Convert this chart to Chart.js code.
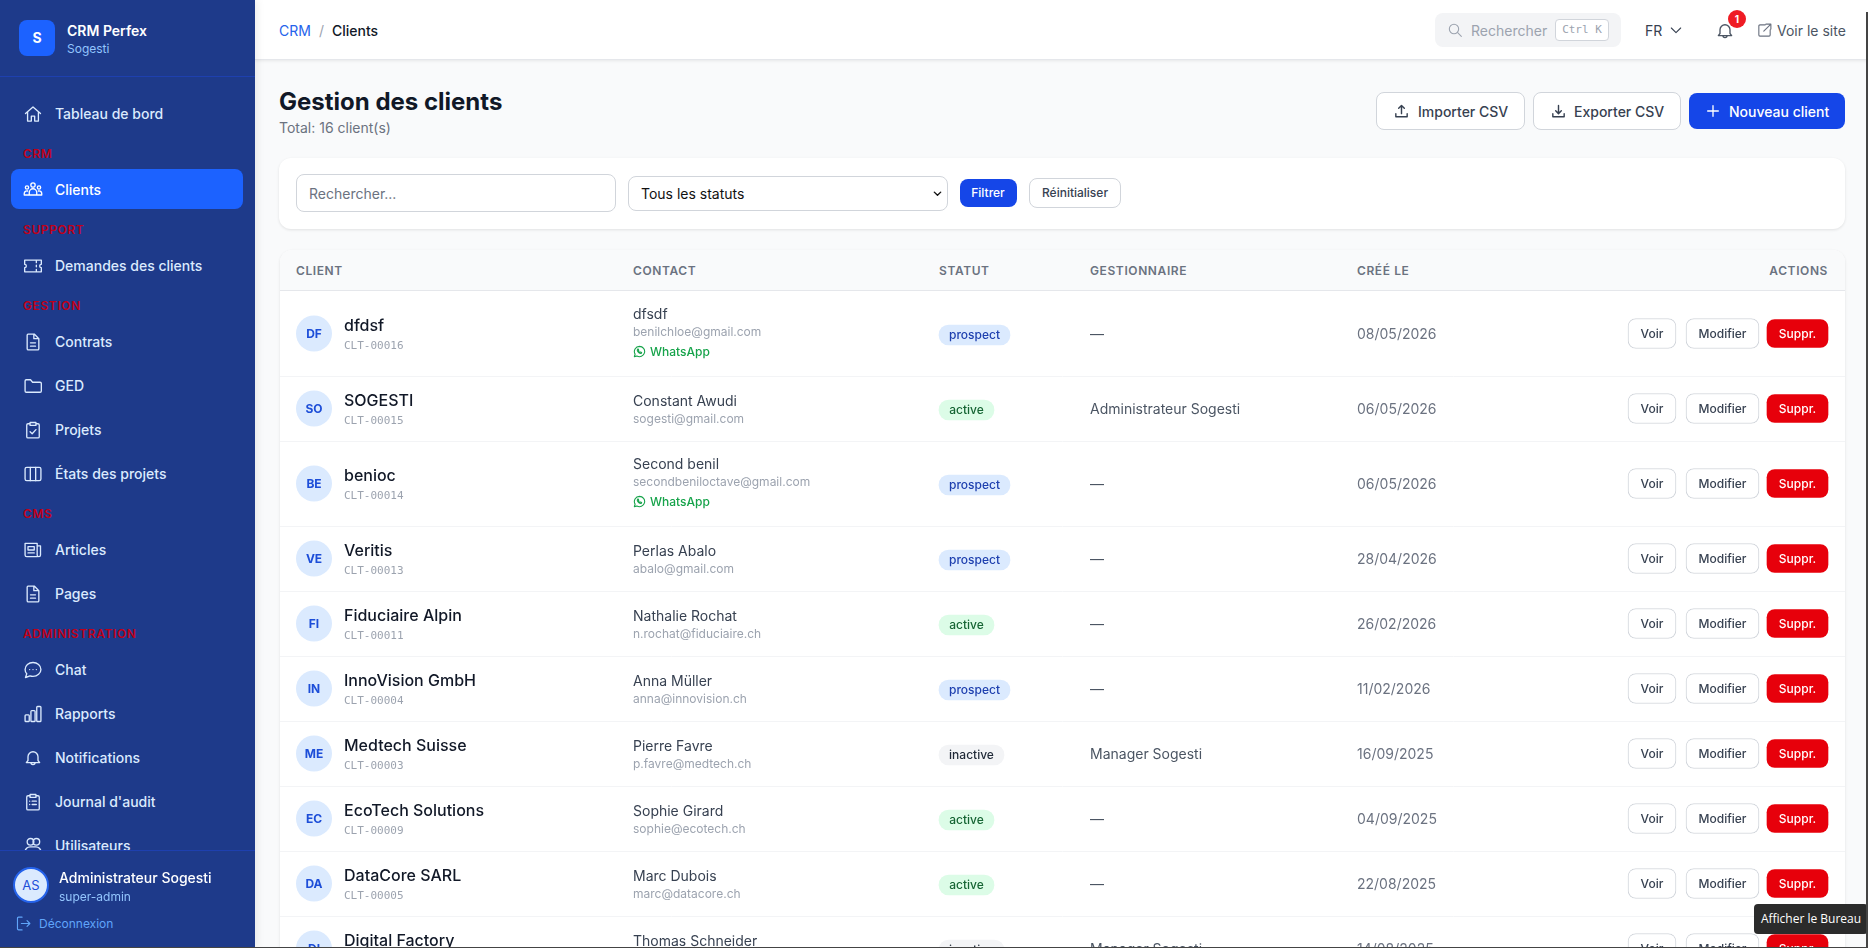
<!DOCTYPE html>
<html lang="fr">
<head>
<meta charset="utf-8">
<title>Gestion des clients</title>
<script src="https://cdn.jsdelivr.net/npm/chart.js@4"></script>
<style>
  * { box-sizing: border-box; }
  html, body { margin: 0; width: 1868px; height: 948px; overflow: hidden; background: #f9fafb; font-family: Inter, sans-serif; }
  .abs, .t { position: absolute; }
  .t { white-space: nowrap; height: 20px; line-height: 20px; }
  svg { position: absolute; fill: none; stroke: currentColor; stroke-width: 1.6; stroke-linecap: round; stroke-linejoin: round; }
  #sidebar { left: 0; top: 0; width: 255px; height: 948px; background: #1e3a8a; overflow: hidden; z-index: 3; box-shadow: 2px 0 8px rgba(0,0,0,.08); }
  #topbar { left: 255px; top: 0; width: 1613px; height: 60px; background: #fff; border-bottom: 1px solid #e5e7eb; box-shadow: 0 1px 3px rgba(0,0,0,.08); z-index: 2; }
  .card { background: #fff; border-radius: 12px; box-shadow: 0 1px 3px rgba(0,0,0,.1); }
  #tableWrap { left: 280px; top: 291px; width: 1565px; height: 692px; }
  #tooltip { left: 1754px; top: 904px; width: 114px; height: 30px; background: #2b2b2b; border-radius: 4px; color: #fff; font: 12px/30px "Open Sans", sans-serif; text-align: center; z-index: 5; }
</style>
</head>
<body>
<div id="sidebar" class="abs"></div>
<div id="topbar" class="abs"></div>
<div id="page" class="abs" style="left:0;top:0;width:1868px;height:948px">
  <div class="card abs" style="left:279px;top:158px;width:1566px;height:71px"></div>
  <div class="card abs" style="left:280px;top:250px;width:1565px;height:760px"></div>
  <div class="abs" style="left:280px;top:250px;width:1565px;height:41px;background:#f9fafb;border-bottom:1px solid #e5e7eb;border-radius:12px 12px 0 0"></div>
  <div id="tableWrap" class="abs"><canvas id="clientTable" width="1565" height="692"></canvas></div>
</div>
<div id="tooltip" class="abs">Afficher le Bureau</div>
<div class="abs" style="left:1866px;top:12px;width:2px;height:936px;background:#444;z-index:6"></div>
<div class="abs" style="left:0;top:947px;width:1868px;height:1px;background:#444;z-index:6"></div>

<script>
// table values
const clientNames = ['dfdsf', 'SOGESTI', 'benioc', 'Veritis', 'Fiduciaire Alpin', 'InnoVision GmbH', 'Medtech Suisse', 'EcoTech Solutions', 'DataCore SARL', 'Digital Factory'];
const clientInitials = ['DF', 'SO', 'BE', 'VE', 'FI', 'IN', 'ME', 'EC', 'DA', 'DI'];
const clientCodes = ['CLT-00016', 'CLT-00015', 'CLT-00014', 'CLT-00013', 'CLT-00011', 'CLT-00004', 'CLT-00003', 'CLT-00009', 'CLT-00005', 'CLT-00007'];
const contactNames = ['dfsdf', 'Constant Awudi', 'Second benil', 'Perlas Abalo', 'Nathalie Rochat', 'Anna Müller', 'Pierre Favre', 'Sophie Girard', 'Marc Dubois', 'Thomas Schneider'];
const contactEmails = ['benilchloe@gmail.com', 'sogesti@gmail.com', 'secondbeniloctave@gmail.com', 'abalo@gmail.com', 'n.rochat@fiduciaire.ch', 'anna@innovision.ch', 'p.favre@medtech.ch', 'sophie@ecotech.ch', 'marc@datacore.ch', 'thomas@digitalfactory.ch'];
const hasWhatsApp = [true, false, true, false, false, false, false, false, false, false];
const statuses = ['prospect', 'active', 'prospect', 'prospect', 'active', 'prospect', 'inactive', 'active', 'active', 'inactive'];
const managers = ['—', 'Administrateur Sogesti', '—', '—', '—', '—', 'Manager Sogesti', '—', '—', 'Manager Sogesti'];
const createdDates = ['08/05/2026', '06/05/2026', '06/05/2026', '28/04/2026', '26/02/2026', '11/02/2026', '16/09/2025', '04/09/2025', '22/08/2025', '14/08/2025'];
const columnLabels = ['CLIENT', 'CONTACT', 'STATUT', 'GESTIONNAIRE', 'CRÉÉ LE', 'ACTIONS'];
const actionLabels = ['Voir', 'Modifier', 'Suppr.'];

// sidebar values
const navLabels = ['Tableau de bord', 'Clients', 'Demandes des clients', 'Contrats', 'GED', 'Projets', 'États des projets', 'Articles', 'Pages', 'Chat', 'Rapports', 'Notifications', "Journal d'audit", 'Utilisateurs'];
const navIcons = ['home', 'group', 'ticket', 'doc', 'folder', 'check', 'columns', 'news', 'doc', 'chat', 'bars', 'bell', 'list', 'users'];
const navSections = ['CRM', 'SUPPORT', 'GESTION', 'CMS', 'ADMINISTRATION'];

// layout, in page pixels
const navY = [114, 190, 266, 342, 386, 430, 474, 550, 594, 670, 714, 758, 802, 846];
const sectionY = [154, 230, 306, 514, 634];
const columnX = [296, 633, 939, 1090, 1357];
const statusWidth = { prospect: 71, active: 55, inactive: 65 };
const statusColors = {
  prospect: ['#dbeafe', '#1e40af'],
  active: ['#dcfce7', '#166534'],
  inactive: ['#f3f4f6', '#1f2937']
};

const ICONS = {
  home: '<path d="M3 11.5 12 3.5l9 8M5.5 9.500V20.500h4.500v-6h4v6h4.500V9.500"/>',
  group: '<circle cx="12" cy="6" r="2.6"/><circle cx="4.8" cy="9" r="2"/><circle cx="19.2" cy="9" r="2"/><path d="M7.500 18v-3a4.500 4.500 0 0 1 9 0v3zM1.500 18v-2a3.200 3.200 0 0 1 4-2.800M22.500 18v-2a3.200 3.200 0 0 0-4-2.800M1.500 18h21"/>',
  ticket: '<path d="M2 5h20v5a2 2 0 0 0 0 4v5H2v-5a2 2 0 0 0 0-4zM16 6v2M16 11v2M16 16v2"/>',
  doc: '<path d="M6 2.500h7.500L19 8v12a1.500 1.500 0 0 1-1.500 1.500h-11A1.500 1.500 0 0 1 5 20V4a1.500 1.500 0 0 1 1-1.500zM13 3v5h6M9 13h6M9 17h6"/>',
  folder: '<path d="M2.500 6a1.500 1.500 0 0 1 1.500-1.500h5l2.500 3h9a1.500 1.500 0 0 1 1.500 1.500v9a1.500 1.500 0 0 1-1.500 1.500H4A1.500 1.500 0 0 1 2.500 18z"/>',
  check: '<path d="M8.500 4.500H6A1.500 1.500 0 0 0 4.500 6v14A1.500 1.500 0 0 0 6 21.500h12a1.500 1.500 0 0 0 1.500-1.500V6A1.500 1.500 0 0 0 18 4.500h-2.500M8.500 3h7v3.500h-7zM8.500 14l2.500 2.500 4.500-5"/>',
  columns: '<rect x="2.500" y="4" width="19" height="16" rx="2"/><path d="M8.800 4v16M15.200 4v16"/>',
  news: '<path d="M17 20H4.500A2 2 0 0 1 2.500 18V4h14.500v14a2 2 0 0 0 4 0V7h-4M6 8h7.500v4H6zM6 15.500h7.500"/>',
  chat: '<path d="M12 3c5.200 0 9.500 3.700 9.500 8.300s-4.300 8.300-9.500 8.300c-1.300 0-2.500-.2-3.600-.6L3 21l1.500-4.500a7.900 7.900 0 0 1-2-5.200C2.500 6.700 6.800 3 12 3z"/><path d="M8 11.500h.01M12 11.500h.01M16 11.500h.01"/>',
  bars: '<rect x="2.500" y="13" width="5" height="8" rx="1"/><rect x="9.500" y="8" width="5" height="13" rx="1"/><rect x="16.500" y="3" width="5" height="18" rx="1"/>',
  bell: '<path d="M18 15V10.500a6 6 0 0 0-12 0V15l-2 2.500h16zM9.500 17.500a2.500 2.500 0 0 0 5 0"/>',
  list: '<path d="M8.500 4.500H6A1.500 1.500 0 0 0 4.500 6v14A1.500 1.500 0 0 0 6 21.500h12a1.500 1.500 0 0 0 1.500-1.500V6A1.500 1.500 0 0 0 18 4.500h-2.500M8.500 3h7v3.500h-7zM8 11h.01M11 11h5M8 15h.01M11 15h5"/>',
  users: '<circle cx="9" cy="7" r="4"/><circle cx="16" cy="7" r="4"/><path d="M2.500 21v-2a6 6 0 0 1 6-6h7a6 6 0 0 1 6 6v2"/>',
  logout: '<path d="M10 3H5a1.500 1.500 0 0 0-1.500 1.500v15A1.500 1.500 0 0 0 5 21h5M9 12h12M17 8l4 4-4 4"/>',
  search: '<circle cx="10.500" cy="10.500" r="7"/><path d="m16 16 5.500 5.500"/>',
  chevron: '<path d="m5 9 7 7 7-7"/>',
  external: '<path d="M13 4H5.500A1.500 1.500 0 0 0 4 5.500v13A1.500 1.500 0 0 0 5.500 20h13a1.500 1.500 0 0 0 1.500-1.500V11M14 3h7v7M21 3 11 13"/>',
  upload: '<path d="M12 15V4M8 7.500 12 3.500l4 4M4 15v4.500h16V15"/>',
  download: '<path d="M12 3.500v11M8 11l4 4 4-4M4 15v4.500h16V15"/>',
  plus: '<path d="M12 4v16M4 12h16"/>',
  whatsapp: '<path d="M12 2.500a9.500 9.500 0 0 0-8.100 14.400L2.500 21.500l4.700-1.300A9.500 9.500 0 1 0 12 2.500z"/><path d="M8.500 7.500c-1 1-1 2.500.5 4.800 1.500 2.200 3.500 3.500 5 3.500 1 0 2-.8 2-1.800l-2.300-1.200-1 1c-1.200-.5-2.300-1.600-2.900-2.900l.9-1-1-2.400z"/>'
};

function addText(parent, text, x, y, css) {
  const el = document.createElement('div');
  el.className = 't';
  el.textContent = text;
  el.style.cssText = `left:${x}px;top:${y - 10}px;${css || ''}`;
  parent.appendChild(el);
  return el;
}

function addRightText(parent, text, right, y, css) {
  const el = addText(parent, text, 0, y, css);
  el.style.left = 'auto';
  el.style.right = (1868 - right) + 'px';
  return el;
}

function addCenterText(parent, text, cx, y, css) {
  const el = addText(parent, text, cx, y, css);
  el.style.transform = 'translateX(-50%)';
  return el;
}

function addIcon(parent, name, x, y, size, color, width) {
  const holder = document.createElement('div');
  holder.innerHTML = `<svg viewBox="0 0 24 24" width="${size}" height="${size}" style="left:${x}px;top:${y - size / 2}px;color:${color};stroke-width:${width || 1.6}">${ICONS[name]}</svg>`;
  parent.appendChild(holder.firstChild);
}

function addBox(parent, x, y, w, h, css) {
  const el = document.createElement('div');
  el.className = 'abs';
  el.style.cssText = `left:${x}px;top:${y}px;width:${w}px;height:${h}px;${css}`;
  parent.appendChild(el);
  return el;
}

function buildSidebar() {
  const side = document.getElementById('sidebar');
  addBox(side, 19, 20, 36, 36, 'background:#1c62ff;border-radius:8px');
  addCenterText(side, 'S', 37, 38, 'color:#fff;font-weight:700;font-size:14px');
  addText(side, 'CRM Perfex', 67, 31, 'color:#fff;font-weight:600;font-size:14px');
  addText(side, 'Sogesti', 67, 49, 'color:#93c5fd;font-size:12px');
  addBox(side, 0, 76, 255, 1, 'background:#1e40af');

  addBox(side, 11, 169, 232, 40, 'background:#1c62ff;border-radius:8px');
  navLabels.forEach((label, i) => {
    const color = label === 'Clients' ? '#fff' : '#dbeafe';
    addIcon(side, navIcons[i], 23, navY[i], 20, color);
    addText(side, label, 55, navY[i], `color:${color};font-weight:500;font-size:14px`);
  });
  navSections.forEach((label, i) => {
    addText(side, label, 23, sectionY[i], 'color:#c00018;font-weight:600;font-size:12px;letter-spacing:.6px');
  });

  const foot = addBox(side, 0, 850, 255, 98, 'background:#1e3a8a;border-top:1px solid #1e40af');
  addBox(foot, 13, 16, 36, 36, 'background:#dbeafe;border:2px solid #2563eb;border-radius:50%');
  addCenterText(foot, 'AS', 31, 34, 'color:#1d4ed8;font-size:13px');
  addText(foot, 'Administrateur Sogesti', 59, 27, 'color:#fff;font-weight:500;font-size:14px');
  addText(foot, 'super-admin', 59, 46, 'color:#93c5fd;font-size:12px');
  addIcon(foot, 'logout', 15, 72, 17, '#60a5fa');
  addText(foot, 'Déconnexion', 39, 73, 'color:#60a5fa;font-size:12px');
}

function buildTopbar() {
  const bar = document.getElementById('topbar');
  addText(bar, 'CRM', 24, 31, 'color:#2563eb;font-size:14px');
  addText(bar, '/', 64, 31, 'color:#9ca3af;font-size:14px');
  addText(bar, 'Clients', 77, 31, 'color:#111827;font-weight:500;font-size:14px');
  addBox(bar, 1180, 13, 186, 34, 'background:#f3f4f6;border-radius:8px');
  addIcon(bar, 'search', 1192, 30, 16, '#9ca3af');
  addText(bar, 'Rechercher', 1216, 31, 'color:#9ca3af;font-size:14px');
  addBox(bar, 1300, 19, 54, 22, 'background:#fff;border:1px solid #d1d5db;border-radius:4px');
  addCenterText(bar, 'Ctrl K', 1327, 30, 'color:#9ca3af;font:11px/20px "DejaVu Sans Mono",monospace');
  addText(bar, 'FR', 1390, 31, 'color:#374151;font-size:14px');
  addIcon(bar, 'chevron', 1413, 30, 16, '#374151');
  addIcon(bar, 'bell', 1460, 31, 20, '#4b5563');
  addBox(bar, 1473, 10, 18, 18, 'background:#ef1c24;border-radius:50%');
  addCenterText(bar, '1', 1482, 19, 'color:#fff;font-weight:700;font-size:10px');
  addIcon(bar, 'external', 1501, 30, 17, '#6b7280');
  addText(bar, 'Voir le site', 1522, 31, 'color:#4b5563;font-size:14px');
}

function buildPageHead() {
  const page = document.getElementById('page');
  addText(page, 'Gestion des clients', 279, 102, 'color:#111827;font-weight:700;font-size:24px');
  addText(page, 'Total: 16 client(s)', 279, 128, 'color:#6b7280;font-size:14px');

  addBox(page, 1376, 92, 149, 38, 'background:#fff;border:1px solid #d1d5db;border-radius:8px');
  addIcon(page, 'upload', 1393, 111, 17, '#374151', 2);
  addText(page, 'Importer CSV', 1418, 112, 'color:#374151;font-weight:500;font-size:14px');
  addBox(page, 1533, 92, 148, 38, 'background:#fff;border:1px solid #d1d5db;border-radius:8px');
  addIcon(page, 'download', 1550, 111, 17, '#374151', 2);
  addText(page, 'Exporter CSV', 1574, 112, 'color:#374151;font-weight:500;font-size:14px');
  addBox(page, 1689, 93, 156, 36, 'background:#1546e8;border-radius:8px');
  addIcon(page, 'plus', 1705, 111, 16, '#fff', 2);
  addText(page, 'Nouveau client', 1729, 112, 'color:#fff;font-weight:500;font-size:14px');

  addBox(page, 296, 174, 320, 38, 'background:#fff;border:1px solid #d1d5db;border-radius:8px');
  addText(page, 'Rechercher...', 309, 194, 'color:#6b7280;font-size:14px');
  addBox(page, 628, 176, 320, 35, 'background:#fff;border:1px solid #d1d5db;border-radius:8px');
  addText(page, 'Tous les statuts', 641, 194, 'color:#111;font-size:14px');
  addIcon(page, 'chevron', 932, 193, 11, '#111', 3);
  addBox(page, 960, 179, 57, 28, 'background:#1546e8;border-radius:8px');
  addCenterText(page, 'Filtrer', 988, 193, 'color:#fff;font-weight:500;font-size:12px');
  addBox(page, 1029, 178, 92, 30, 'background:#fff;border:1px solid #d1d5db;border-radius:8px');
  addCenterText(page, 'Réinitialiser', 1075, 193, 'color:#374151;font-weight:500;font-size:12px');

  const headCss = 'color:#6b7280;font-weight:600;font-size:12px;letter-spacing:.6px';
  columnX.forEach((x, i) => addText(page, columnLabels[i], x, 271, headCss));
  addRightText(page, columnLabels[5], 1828, 271, headCss);
}

// row heights follow the number of lines in the contact cell
const rowHeights = hasWhatsApp.map(w => (w ? 85 : 65));
const rowTops = rowHeights.map((h, i) => rowHeights.slice(0, i).reduce((a, b) => a + b, 0));
const rowCentres = rowTops.map((top, i) => top + rowHeights[i] / 2);

const avatarX = 314;
const statusBars = statuses.map((s, i) => ({ x: [columnX[2], columnX[2] + statusWidth[s]], y: rowCentres[i] + 1.5 }));
const voirBars = rowCentres.map(y => ({ x: [1628, 1676], y }));
const modifierBars = rowCentres.map(y => ({ x: [1686, 1759], y }));
const supprBars = rowCentres.map(y => ({ x: [1767, 1828], y }));

function outlineDataset(data) {
  return { type: 'bar', data, barThickness: 30, backgroundColor: '#fff', borderColor: '#d1d5db', borderWidth: 1, borderRadius: 8, borderSkipped: false, grouped: false };
}

const chart = new Chart(document.getElementById('clientTable'), {
  data: {
    datasets: [
      {
        type: 'scatter',
        data: rowCentres.map(y => ({ x: avatarX, y })),
        pointRadius: 18,
        pointBackgroundColor: '#dbeafe',
        pointBorderWidth: 0
      },
      {
        type: 'bar',
        data: statusBars,
        barThickness: 20,
        backgroundColor: statuses.map(s => statusColors[s][0]),
        borderRadius: 10,
        borderSkipped: false,
        grouped: false
      },
      outlineDataset(voirBars),
      outlineDataset(modifierBars),
      {
        type: 'bar',
        data: supprBars,
        barThickness: 28,
        backgroundColor: '#e7000b',
        borderRadius: 8,
        borderSkipped: false,
        grouped: false
      }
    ]
  },
  options: {
    indexAxis: 'y',
    responsive: false,
    animation: false,
    events: [],
    layout: { padding: 0, autoPadding: false },
    plugins: { legend: { display: false }, tooltip: { enabled: false } },
    scales: {
      x: { type: 'linear', min: 280, max: 1845, offset: false, display: false },
      y: {
        type: 'linear',
        reverse: true,
        offset: false,
        min: 0,
        max: 692,
        afterBuildTicks: axis => {
          axis.ticks = rowTops.slice(1).map(value => ({ value }));
        },
        ticks: { display: false },
        border: { display: false },
        grid: { color: '#f3f4f6', offset: false, drawTicks: false }
      }
    }
  }
});

// cell texts sit on the same scales as the marks
function buildCells() {
  const wrap = document.getElementById('page');
  const xs = chart.scales.x;
  const ys = chart.scales.y;
  const px = x => 280 + xs.getPixelForValue(x);
  const py = y => 291 + ys.getPixelForValue(y);

  clientNames.forEach((name, i) => {
    const c = py(rowCentres[i]);
    addCenterText(wrap, clientInitials[i], px(avatarX), c, 'color:#1d4ed8;font-weight:700;font-size:12px');
    addText(wrap, name, px(344), c - 9, 'color:#111827;font-weight:500;font-size:16px');
    addText(wrap, clientCodes[i], px(344), c + 12, 'color:#9ca3af;font:11px/20px "DejaVu Sans Mono",monospace');

    const top = hasWhatsApp[i] ? c - 20 : c - 8;
    addText(wrap, contactNames[i], px(columnX[1]), top, 'color:#374151;font-size:14px');
    addText(wrap, contactEmails[i], px(columnX[1]), top + 18, 'color:#9ca3af;font-size:12px');
    if (hasWhatsApp[i]) {
      addIcon(wrap, 'whatsapp', px(columnX[1]), c + 18, 13, '#16a34a', 2);
      addText(wrap, 'WhatsApp', px(columnX[1] + 17), c + 18, 'color:#16a34a;font-weight:500;font-size:12px');
    }

    const colors = statusColors[statuses[i]];
    addCenterText(wrap, statuses[i], px(columnX[2] + statusWidth[statuses[i]] / 2), c + 1, `color:${colors[1]};font-weight:500;font-size:12px`);
    addText(wrap, managers[i], px(columnX[3]), c, 'color:#4b5563;font-size:14px');
    addText(wrap, createdDates[i], px(columnX[4]), c, 'color:#6b7280;font-size:14px');

    addCenterText(wrap, actionLabels[0], px(1652), c, 'color:#374151;font-weight:500;font-size:12px');
    addCenterText(wrap, actionLabels[1], px(1722.5), c, 'color:#374151;font-weight:500;font-size:12px');
    addCenterText(wrap, actionLabels[2], px(1797.5), c, 'color:#fff;font-weight:500;font-size:12px');
  });
}

buildSidebar();
buildTopbar();
buildPageHead();
buildCells();
</script>
</body>
</html>
